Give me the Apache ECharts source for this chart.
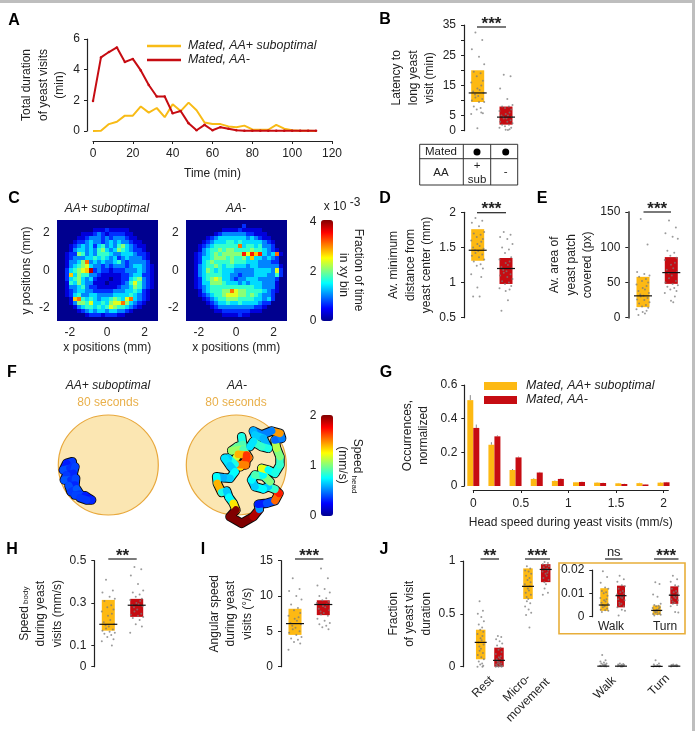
<!DOCTYPE html>
<html>
<head>
<meta charset="utf-8">
<title>Yeast feeding behaviour</title>
<script src="https://cdn.jsdelivr.net/npm/echarts@6/dist/echarts.min.js"></script>
<style>html,body{margin:0;padding:0;background:#fff}#chart{width:695px;height:731px}</style>
</head>
<body>
<div id="chart"></div>
<script>
// ---- Panel A: total duration of yeast visits per time bin
const timeBins = [0,4,8,12,16,20,24,28,32,36,40,44,48,52,56,60,64,68,72,76,80,84,88,92,96,100,104,108,112];
const visitsSub = [0,0.02,0.45,0.6,1,1,1.6,1.2,1.5,0.9,1.75,1.3,1.85,1.35,0.55,0.45,0.45,0.3,0.25,0.35,0.1,0.08,0.08,0.4,0.15,0.05,0.02,0.02,0];
const visitsMinus = [1.95,4.8,5.15,5.45,4.5,4.7,3.95,3,2.25,2.25,1.15,1.3,0.5,0.05,0.4,0.05,0.25,0.15,0.05,0.02,0.02,0.02,0.02,0.02,0.02,0.02,0.02,0.02,0.02];

// ---- Panel B: latency to long yeast visit
const latencySub = [32.5,30,27,24.5,22,19.5,19,18,16.5,16,15,14,13.5,13,12.5,12,11.5,11,10.5,10,9.5,9.5,8,7.5,7,5.8,5.5,6,0.8];
const latencyMinus = [18.5,18,14,10.5,8.5,8,8,7.5,7,6.5,6,5.5,5,5,4.5,4.5,4,4,3.5,3,3,2.5,2,2,1.5,1,1,0.5,0.3,0.2];

// ---- Panel C: fraction of time per xy bin, one base-36 digit per bin, top row first
const heatSub = [
"0000000000000000000000000",
"0000000000000000000000000",
"0000000001112111110000000",
"0000001112321222211000000",
"0000011233323233321100000",
"0000122343323434332110000",
"0001234342453435643211000",
"0001344343564346543221000",
"0012265343555433444322100",
"0012333445454342343332100",
"00133469343433453233332 0".replace(' ', '0'),
"0013456743323233323443210",
"00245678b2322122233343210",
"0028465533211111223442210",
"0024564342111011224563210",
"0015464331110111235753210",
"0013345322111112334653210",
"0012344332222233344542100",
"0012453344333344445432100",
"0001895454344565479432100",
"0001366574454677964321000",
"0000134554545765543210000",
"0000012343443443321000000",
"0000000122212221100000000",
"0000000000000000000000000"];
const heatMinus = [
"0000000000000000000000000",
"0000000000000020000000000",
"0000000001111211111000000",
"0000000123333332211100000",
"0000012344444443432110000",
"0000123444554544444321000",
"0001234555555945545332000",
"0001345565665555655432100",
"00123456566666a7a8a434910",
"0012445666565564844343200",
"0012456555565554443332200",
"0013455654554443443333310",
"0013465454443333344443720",
"0013455554433233344433520",
"0012456764432334443333200",
"0012446665444343444333100",
"0012345555555555544333100",
"0001345556697665555432100",
"0001234556777665654332000",
"0000123455666555544342000",
"0000012344544544443220000",
"0000001233333333322100000",
"0000000112222222111000000",
"0000000001111211000000000",
"0000000000000000000000000"];
const heatLevelStep = 0.34; // x 10^-3 per digit

// ---- Panel D: minimum distance from yeast centre
const distSub = [1.92,1.88,1.85,1.8,1.72,1.7,1.68,1.65,1.62,1.6,1.58,1.55,1.52,1.5,1.48,1.46,1.45,1.42,1.4,1.38,1.36,1.33,1.3,1.26,1.24,1.2,1.12,1.08,0.93,0.8,0.8];
const distMinus = [1.72,1.68,1.65,1.62,1.55,1.5,1.47,1.42,1.36,1.33,1.3,1.28,1.25,1.22,1.2,1.18,1.16,1.14,1.12,1.1,1.08,1.05,1.02,1,0.98,0.95,0.92,0.9,0.88,0.75,0.6];

// ---- Panel E: area of yeast patch covered
const areaSub = [140,104,65,62,60,58,55,52,50,47,45,42,40,38,35,33,31,30,28,26,25,22,20,18,16,14,12,10,8,6,4];
const areaMinus = [138,128,120,115,112,95,92,88,85,82,78,75,70,68,65,63,60,56,52,50,48,46,44,42,40,38,35,30,24,22];

// ---- Panel F: head tracks on the patch, [x, y, head speed in mm/s], patch radius = 150 units
const trackSub = [[-108,10,0.32],[-125,5,0.36],[-135,-15,0.3],[-115,-10,0.4],[-100,-5,0.34],[-105,-25,0.38],[-125,-30,0.32],[-132,-45,0.36],[-112,-45,0.42],[-98,-40,0.34],[-100,-60,0.38],[-118,-62,0.32],[-112,-80,0.4],[-95,-72,0.36],[-85,-88,0.42],[-100,-90,0.34],[-70,-92,0.38],[-58,-100,0.3],[-50,-105,0.28],[-65,-105,0.32],[-85,-98,0.36]];
const trackMinus = [[16,85,0.75],[19,62,0.8],[3,55,0.9],[-14,43,0.95],[21,47,1.05],[37,22,0.9],[13,-5,1.55],[-9,8,1.3],[6,32,1.15],[31,30,1.4],[28,0,1.65],[-4,2,1.5],[-24,20,0.8],[-34,20,0.65],[-19,-2,0.7],[-4,-20,0.65],[-19,-40,0.75],[-39,-38,0.65],[-59,-35,0.6],[-57,-55,0.75],[-44,-82,1.4],[-29,-78,0.8],[-22,-97,0.65],[-9,-115,0.75],[-1,-135,1.3],[-19,-155,2],[16,-175,2],[51,-155,2],[69,-133,1.9],[66,-118,0.55],[91,-115,0.3],[116,-107,0.4],[128,-85,1.55],[116,-73,1.7],[96,-65,0.85],[81,-72,0.65],[56,-65,0.75],[46,-45,0.65],[56,-30,0.75],[81,-33,0.9],[101,-50,0.7],[81,-30,1],[76,-10,0.75],[96,-15,1.2],[116,-25,0.75],[131,0,0.8],[131,25,0.85],[121,50,1],[116,75,1.1],[136,80,0.45],[131,95,0.5],[106,102,1.45],[76,90,0.5],[51,102,0.5],[56,90,0.6],[81,80,0.65],[96,50,0.6],[76,55,0.8],[51,70,0.85],[41,55,0.7]];

// ---- Panel G: head speed histogram
const speedBins = [0,0.222,0.444,0.667,0.889,1.111,1.333,1.556,1.778,2];
const histSub = [0.51,0.245,0.095,0.042,0.03,0.022,0.02,0.016,0.017,0.02];
const histMinus = [0.345,0.295,0.17,0.08,0.042,0.024,0.018,0.012,0.009,0.022];
const histSubErr = [0.03,0.015,0.006,0.004,0.003,0.002,0.002,0.002,0.002,0.002];
const histMinusErr = [0.02,0.006,0.005,0.004,0.003,0.002,0.002,0.002,0.001,0.002];

// ---- Panel H: body speed
const bodySub = [0.41,0.36,0.35,0.33,0.32,0.31,0.29,0.28,0.27,0.26,0.25,0.24,0.22,0.21,0.2,0.195,0.19,0.18,0.175,0.17,0.165,0.16,0.155,0.15,0.14,0.13,0.12,0.1];
const bodyMinus = [0.47,0.46,0.43,0.39,0.36,0.35,0.34,0.33,0.32,0.315,0.31,0.3,0.295,0.29,0.285,0.28,0.27,0.26,0.25,0.245,0.24,0.235,0.23,0.22,0.2,0.19,0.16];

// ---- Panel I: angular speed
const angSub = [12.5,11,10.7,10,9.5,8.8,8.3,8,7.6,7.2,7,6.8,6.5,6.2,6,5.8,5.5,5.3,5,4.8,4.5,4.2,4,3.8,3.5,3.3,2.4];
const angMinus = [13.9,12.5,11.5,11,10.5,10,9.7,9.4,9.2,9,8.8,8.6,8.4,8.2,8,7.8,7.6,7.4,7.2,6.8,6.5,6.2,6,5.8,5.6,5.3];

// ---- Panel J: fraction of yeast visit duration per behaviour
const restSub = [0.62,0.53,0.5,0.47,0.43,0.4,0.37,0.35,0.33,0.31,0.29,0.27,0.25,0.23,0.21,0.19,0.17,0.15,0.13,0.11,0.09,0.07,0.05,0.03,0.02,0.01,0,0];
const restMinus = [0.29,0.28,0.26,0.24,0.22,0.2,0.18,0.16,0.14,0.12,0.1,0.09,0.08,0.07,0.06,0.05,0.04,0.03,0.03,0.02,0.02,0.01,0.01,0.01,0,0,0];
const microSub = [0.95,0.93,0.91,0.9,0.88,0.86,0.84,0.82,0.8,0.78,0.76,0.74,0.72,0.7,0.68,0.66,0.64,0.62,0.6,0.57,0.54,0.51,0.49,0.37];
const microMinus = [0.99,0.98,0.97,0.96,0.95,0.94,0.93,0.92,0.91,0.9,0.89,0.88,0.86,0.84,0.82,0.8,0.78,0.74,0.7,0.68];
const walkSub = [0.11,0.06,0.05,0.04,0.03,0.03,0.02,0.02,0.015,0.01,0.01,0.008,0.005,0.005,0.003];
const walkMinus = [0.03,0.025,0.02,0.018,0.015,0.012,0.01,0.008,0.006,0.005,0.004,0.003,0.002];
const turnSub = [0.06,0.03,0.02,0.015,0.01,0.008,0.006,0.004,0.003,0.002];
const turnMinus = [0.02,0.018,0.015,0.012,0.01,0.009,0.008,0.006,0.004,0.003];
// inset, expanded scale
const walkSubZoom = [0.0195,0.017,0.0145,0.0125,0.012,0.011,0.0105,0.01,0.009,0.008,0.0075,0.007,0.0065,0.006,0.0055,0.005,0.0045,0.004,0.0035,0.003,0.0028,0.0025,0.002];
const walkMinusZoom = [0.0175,0.016,0.015,0.0135,0.013,0.012,0.011,0.0105,0.01,0.0095,0.009,0.0085,0.008,0.0075,0.007,0.006,0.0055,0.005,0.0045,0.004,0.003,0.0025,0.0005];
const turnSubZoom = [0.0148,0.014,0.0095,0.0085,0.0055,0.005,0.0047,0.0045,0.004,0.0037,0.0035,0.003,0.0028,0.0027,0.0025,0.0023,0.002,0.0018,0.0015,0.0012,0.001,0.0008,0.0005];
const turnMinusZoom = [0.0175,0.016,0.015,0.0135,0.013,0.012,0.011,0.0105,0.01,0.0095,0.009,0.0085,0.008,0.0075,0.007,0.0065,0.006,0.0055,0.005,0.0045,0.002,0.0018];

// ---- Shared style
const YELLOW = '#FDB913', RED = '#C60C12', INK = '#222222', GOLD = '#E9B04B';
const FONT = '"Liberation Sans", Arial, sans-serif';
const jetStops = ['#00008f','#0000ff','#0080ff','#00ffff','#80ff80','#ffff00','#ff8000','#ff0000','#800000'];
const spread = [-0.35,0.7,-0.9,0.2,1,-0.6,0.45,-0.15,0.8,-1,0.55,-0.05,0.3,-0.7,0.9,-0.42,0.08];

const grids = [], xAxes = [], yAxes = [], series = [], graphics = [];

function text(str, x, y, o = {}) {
  graphics.push({
    type: 'text', x, y, rotation: o.rotate || 0, silent: true,
    style: { text: str, font: `${o.style || ''} ${o.weight || ''} ${o.size || 12}px ${FONT}`, fill: o.fill || INK,
      align: o.align || 'center', verticalAlign: 'middle', rich: o.rich, lineHeight: o.lineHeight }
  });
}
function rule(x1, y1, x2, y2, color = INK, width = 1) {
  graphics.push({ type: 'line', silent: true, shape: { x1, y1, x2, y2 }, style: { stroke: color, lineWidth: width } });
}
function sig(x1, x2, y, mark) {
  rule(x1, y, x2, y, INK, 1.2);
  if (mark === 'ns') text('ns', (x1 + x2) / 2, y - 7, { size: 13, fill: INK });
  else text(mark, (x1 + x2) / 2, y - 3, { size: 17, weight: 'bold', fill: INK });
}

function addGrid(rect, xAxis, yAxis) {
  const i = grids.length;
  grids.push({ left: rect.left, top: rect.top, width: rect.width, height: rect.height, containLabel: false });
  xAxes.push(Object.assign({ gridIndex: i, type: 'value', splitLine: { show: false } }, xAxis));
  yAxes.push(Object.assign({ gridIndex: i, type: 'value', splitLine: { show: false } }, yAxis));
  return i;
}
function axisLook(extra = {}, color = INK, width = 1.2) {
  return Object.assign({
    axisLine: { show: true, onZero: false, lineStyle: { color, width } },
    axisTick: { show: true, length: 3, lineStyle: { color: INK, width: 1 } },
    axisLabel: { color: INK, fontSize: 12, fontFamily: FONT, margin: 7 },
    nameTextStyle: { color: INK, fontSize: 12, fontFamily: FONT, lineHeight: 16.5 },
    nameLocation: 'middle'
  }, extra);
}

// Floating box, dots and median bar for one group on a pixel-spaced nominal x axis
function addGroup(g, cx, color, vals, lo, hi, med, o = {}) {
  const w = o.w || 13, mw = o.mw || 18, jit = o.jit === undefined ? 6.5 : o.jit;
  if (lo !== null) {
    series.push({
      type: 'custom', xAxisIndex: g, yAxisIndex: g, silent: true, z: 2, data: [[cx, lo, hi]],
      renderItem(p, api) {
        const a = api.coord([api.value(0), api.value(2)]), b = api.coord([api.value(0), api.value(1)]);
        return { type: 'rect', shape: { x: a[0] - w / 2, y: a[1], width: w, height: b[1] - a[1] }, style: { fill: color } };
      }
    });
  }
  series.push({
    type: 'scatter', xAxisIndex: g, yAxisIndex: g, silent: true, z: 3, clip: false,
    symbolSize: o.dot || 2, itemStyle: { color: '#7a7a7a', opacity: 0.75 },
    data: vals.map((v, i) => [cx + spread[i % spread.length] * jit, v])
  });
  series.push({
    type: 'custom', xAxisIndex: g, yAxisIndex: g, silent: true, z: 4, data: [[cx, med]],
    renderItem(p, api) {
      const c = api.coord([api.value(0), api.value(1)]);
      return { type: 'line', shape: { x1: c[0] - mw / 2, y1: c[1], x2: c[0] + mw / 2, y2: c[1] }, style: { stroke: '#111', lineWidth: 1.2 } };
    }
  });
}
// Behaviour panel: y axis plus hidden nominal x axis whose units are pixels
function swarmPanel(left, right, top, bottom, yOpt) {
  return addGrid({ left, top, width: right - left, height: bottom - top },
    { show: false, min: left, max: right }, axisLook(yOpt, yOpt.lineColor || INK, yOpt.lineWidth || 1.2));
}
function yAxisOpt(min, max, labels, ticks, name, gap) {
  const look = axisLook();
  return {
    min, max, name, nameGap: gap, nameRotate: 90,
    axisLabel: Object.assign({}, look.axisLabel, { customValues: labels, margin: 8 }),
    axisTick: Object.assign({}, look.axisTick, { customValues: ticks || labels })
  };
}

// ---- A
{
  const g = addGrid({ left: 93, top: 39, width: 239, height: 92 },
    axisLook({ min: 0, max: 120, interval: 20, offset: 10, name: 'Time (min)', nameGap: 24 }),
    axisLook({ min: 0, max: 6, interval: 2, offset: 6, name: 'Total duration\nof yeast visits\n(min)', nameGap: 19, nameRotate: 90 }));
  const line = (name, color, vals, size) => series.push({
    name, type: 'line', xAxisIndex: g, yAxisIndex: g, silent: true, z: 3, symbol: 'circle', symbolSize: size, showSymbol: size > 0,
    lineStyle: { color, width: 2 }, itemStyle: { color }, data: timeBins.map((t, i) => [t, vals[i]])
  });
  line('Mated, AA+ suboptimal', '#F8BB16', visitsSub, 0);
  line('Mated, AA-', RED, visitsMinus, 2.5);
}
const legendA = {
  left: 147, top: 39, orient: 'vertical', padding: 0, itemGap: 0, itemWidth: 34, itemHeight: 2.5, icon: 'rect', selectedMode: false,
  textStyle: { color: INK, fontSize: 12.4, fontStyle: 'italic', fontFamily: FONT, lineHeight: 14, padding: [0, 0, 0, 2] },
  data: [{ name: 'Mated, AA+ suboptimal', itemStyle: { color: '#F8BB16' } }, { name: 'Mated, AA-', itemStyle: { color: RED } }]
};

// ---- B
{
  const o = yAxisOpt(0, 35, [0, 5, 15, 25, 35], [0, 5, 10, 15, 20, 25, 30, 35], 'Latency to\nlong yeast\nvisit (min)', 26);
  const g = swarmPanel(464, 525, 25, 130.7, o);
  addGroup(g, 477.7, YELLOW, latencySub, 9.5, 20, 12.5);
  addGroup(g, 506, RED, latencyMinus, 2, 8, 4.5);
  sig(477, 506, 27, '***');
  // genotype table under the panel
  graphics.push({ type: 'rect', silent: true, shape: { x: 419.7, y: 144.3, width: 98, height: 40.7 }, style: { fill: 'none', stroke: '#333', lineWidth: 1 } });
  rule(419.7, 158.7, 517.7, 158.7, '#333', 1);
  rule(463.3, 144.3, 463.3, 185, '#333', 1);
  rule(490.7, 144.3, 490.7, 185, '#333', 1);
  text('Mated', 441, 151.5, { size: 11.5 });
  text('AA', 441, 173, { size: 11.5 });
  text('+', 477, 165.5, { size: 11.5 });
  text('sub', 477, 179.5, { size: 11.5 });
  text('-', 505.7, 172, { size: 11.5 });
  for (const cx of [477, 505.7]) graphics.push({ type: 'circle', silent: true, shape: { cx, cy: 152, r: 3.5 }, style: { fill: '#000' } });
}

// ---- C
function heatPanel(left, rows, yName) {
  const g = addGrid({ left, top: 220, width: 101, height: 101 },
    axisLook({ min: -2.7, max: 2.7, axisLine: { show: false }, axisTick: { show: false }, name: 'x positions (mm)', nameGap: 18,
      axisLabel: { color: INK, fontSize: 12, fontFamily: FONT, margin: 6, customValues: [-2, 0, 2] } }),
    axisLook({ min: -2.7, max: 2.7, axisLine: { show: false }, axisTick: { show: false }, name: yName, nameGap: 21, nameRotate: 90,
      axisLabel: { color: INK, fontSize: 12, fontFamily: FONT, margin: 7, customValues: [-2, 0, 2] } }));
  const n = rows.length, step = 5.4 / n, cells = [];
  rows.forEach((row, r) => [...row].forEach((ch, c) => cells.push([-2.7 + step * c, 2.7 - step * r, parseInt(ch, 36) * heatLevelStep])));
  series.push({
    type: 'custom', xAxisIndex: g, yAxisIndex: g, silent: true, z: 2, data: cells,
    encode: { x: 0, y: 1 },
    renderItem(p, api) {
      const a = api.coord([api.value(0), api.value(1)]), b = api.coord([api.value(0) + step, api.value(1) - step]);
      const x0 = Math.round(a[0]), y0 = Math.round(a[1]);
      return { type: 'rect', shape: { x: x0, y: y0, width: Math.round(b[0]) - x0, height: Math.round(b[1]) - y0 }, style: { fill: api.visual('color') } };
    }
  });
  return series.length - 1;
}
const heatA = heatPanel(56.7, heatSub, 'y positions (mm)');
const heatB = heatPanel(185.7, heatMinus, '');
text('AA+ suboptimal', 107, 209, { style: 'italic' });
text('AA-', 236, 209, { style: 'italic' });
text('{a|x 10}{b| -3}', 342, 207, { rich: { a: { font: `12px ${FONT}`, fill: INK }, b: { font: `12px ${FONT}`, fill: INK, padding: [0, 0, 9, 0] } } });
text('4', 313, 222); text('2', 313, 272); text('0', 313, 321);
text('Fraction of time', 358, 270, { rotate: -Math.PI / 2 });
text('in xy bin', 343, 275, { rotate: -Math.PI / 2 });

// ---- D
{
  const o = yAxisOpt(0.5, 2, [0.5, 1, 1.5, 2], null, 'Av. minimum\ndistance from\nyeast center (mm)', 24);
  const g = swarmPanel(464, 525, 212.3, 317.7, o);
  addGroup(g, 477.7, YELLOW, distSub, 1.31, 1.76, 1.46);
  addGroup(g, 506, RED, distMinus, 0.98, 1.35, 1.2);
  sig(477, 506, 212.7, '***');
}
// ---- E
{
  const o = yAxisOpt(0, 150, [0, 50, 100, 150], null, 'Av. area of\nyeast patch\ncovered (px)', 32);
  o.lineColor = '#666'; o.lineWidth = 2;
  const g = swarmPanel(628.3, 690, 212, 317.7, o);
  addGroup(g, 643, YELLOW, areaSub, 15, 58, 31);
  addGroup(g, 671.3, RED, areaMinus, 48, 86, 64);
  sig(643.5, 671, 212, '***');
}

// ---- F
function trackPanel(left, track) {
  const g = addGrid({ left, top: 415, width: 100, height: 100 },
    { show: false, min: -150, max: 150 }, { show: false, min: -150, max: 150 });
  series.push({
    type: 'custom', xAxisIndex: g, yAxisIndex: g, silent: true, z: 1, data: [[0, 0, 150]],
    renderItem(p, api) {
      const c = api.coord([api.value(0), api.value(1)]), e = api.coord([api.value(2), 0]);
      return { type: 'circle', shape: { cx: c[0], cy: c[1], r: e[0] - c[0] }, style: { fill: '#FBE6B2', stroke: '#E8A83C', lineWidth: 1.2 } };
    }
  });
  series.push({
    type: 'line', xAxisIndex: g, yAxisIndex: g, silent: true, z: 2, clip: false, showSymbol: false, animation: false,
    lineStyle: { color: '#0b0b0b', width: 9.5, join: 'round', cap: 'round' }, data: track.map(t => [t[0], t[1]])
  });
  series.push({
    type: 'custom', xAxisIndex: g, yAxisIndex: g, silent: true, z: 3, clip: false,
    data: track.slice(1).map((t, i) => [track[i][0], track[i][1], t[0], t[1], t[2]]),
    encode: { x: [0, 2], y: [1, 3] },
    renderItem(p, api) {
      const a = api.coord([api.value(0), api.value(1)]), b = api.coord([api.value(2), api.value(3)]);
      return { type: 'line', shape: { x1: a[0], y1: a[1], x2: b[0], y2: b[1] }, style: { stroke: api.visual('color'), lineWidth: 7.5, lineCap: 'round' } };
    }
  });
  return series.length - 1;
}
const trackA = trackPanel(58.3, trackSub);
const trackB = trackPanel(186.3, trackMinus);
text('AA+ suboptimal', 108, 386, { style: 'italic' });
text('80 seconds', 108, 403, { fill: GOLD });
text('AA-', 237, 386, { style: 'italic' });
text('80 seconds', 236, 403, { fill: GOLD });
text('2', 313, 416); text('1', 313, 466); text('0', 313, 516);
text('(mm/s)', 342, 465, { rotate: -Math.PI / 2 });
text('{a|Speed}{b| head}', 357, 466, { rotate: -Math.PI / 2, rich: { a: { font: `12px ${FONT}`, fill: INK }, b: { font: `8px ${FONT}`, fill: INK, padding: [6, 0, 0, 0] } } });

// ---- G
{
  const g = addGrid({ left: 473.3, top: 385, width: 195, height: 101 },
    axisLook({ min: 0, max: 2.05, offset: 4, name: 'Head speed during yeast visits (mm/s)', nameGap: 24,
      axisLabel: { color: INK, fontSize: 12, fontFamily: FONT, margin: 8, customValues: [0, 0.5, 1, 1.5, 2] },
      axisTick: { show: true, length: 3, lineStyle: { color: INK }, customValues: [0, 0.5, 1, 1.5, 2] } }),
    axisLook({ min: 0, max: 0.6, interval: 0.2, offset: 9, name: 'Occurrences,\nnormalized', nameGap: 32, nameRotate: 90 }));
  const bars = (name, color, vals) => series.push({
    name, type: 'bar', xAxisIndex: g, yAxisIndex: g, silent: true, z: 3, clip: false, barWidth: 6, barGap: 0,
    itemStyle: { color }, data: speedBins.map((s, i) => [s, vals[i]])
  });
  bars('Mated, AA+ suboptimal', YELLOW, histSub);
  bars('Mated, AA-', RED, histMinus);
  const errs = (vals, err, dx) => series.push({
    type: 'custom', xAxisIndex: g, yAxisIndex: g, silent: true, z: 2, clip: false,
    data: speedBins.map((s, i) => [s, vals[i], vals[i] + err[i]]),
    renderItem(p, api) {
      const a = api.coord([api.value(0), api.value(1)]), b = api.coord([api.value(0), api.value(2)]);
      return { type: 'line', shape: { x1: a[0] + dx, y1: a[1], x2: b[0] + dx, y2: b[1] }, style: { stroke: '#8a8a8a', lineWidth: 1 } };
    }
  });
  errs(histSub, histSubErr, -3);
  errs(histMinus, histMinusErr, 3);
}
const legendG = {
  left: 484, top: 379, orient: 'vertical', padding: 0, itemGap: 0, itemWidth: 33, itemHeight: 8, icon: 'rect', selectedMode: false,
  textStyle: { color: INK, fontSize: 12.4, fontStyle: 'italic', fontFamily: FONT, lineHeight: 14, padding: [0, 0, 0, 4] },
  data: [{ name: 'Mated, AA+ suboptimal', itemStyle: { color: YELLOW } }, { name: 'Mated, AA-', itemStyle: { color: RED } }]
};

// ---- H
{
  const o = yAxisOpt(0, 0.5, [0, 0.1, 0.3, 0.5], null, '{a|Speed}{b| body}\nduring yeast\nvisits (mm/s)', 28);
  o.nameTextStyle = { color: INK, fontSize: 12, fontFamily: FONT, lineHeight: 16.5,
    rich: { a: { fontSize: 12, fontFamily: FONT, color: INK }, b: { fontSize: 8, fontFamily: FONT, color: INK, padding: [0, 0, -3, 0] } } };
  const g = swarmPanel(94.3, 155, 560.7, 666.7, o);
  addGroup(g, 108.3, YELLOW, bodySub, 0.17, 0.315, 0.2);
  addGroup(g, 136.7, RED, bodyMinus, 0.235, 0.32, 0.29);
  sig(108.3, 136.7, 559, '**');
}
// ---- I
{
  const o = yAxisOpt(0, 15, [0, 5, 10, 15], null, 'Angular speed\nduring yeast\nvisits (\u00b0/s)', 21);
  const g = swarmPanel(281, 342, 560.7, 666.7, o);
  addGroup(g, 295, YELLOW, angSub, 4.5, 8.2, 6.1);
  addGroup(g, 323.3, RED, angMinus, 7.3, 9.4, 8.8);
  sig(295, 323.3, 559, '***');
}
// ---- J
{
  const o = yAxisOpt(0, 1, [0, 0.5, 1], null, 'Fraction\nof yeast visit\nduration', 24);
  const g = swarmPanel(463.3, 690, 561, 666.7, o);
  const s = { w: 9.5, mw: 12, jit: 3.2 };
  addGroup(g, 480.7, YELLOW, restSub, 0.07, 0.35, 0.23, s);
  addGroup(g, 499, RED, restMinus, 0, 0.18, 0.06, s);
  addGroup(g, 528, YELLOW, microSub, 0.64, 0.93, 0.76, s);
  addGroup(g, 545.7, RED, microMinus, 0.8, 0.97, 0.92, s);
  addGroup(g, 603.3, YELLOW, walkSub, null, null, 0.005, s);
  addGroup(g, 621, RED, walkMinus, null, null, 0.005, s);
  addGroup(g, 656.7, YELLOW, turnSub, null, null, 0.003, s);
  addGroup(g, 674.3, RED, turnMinus, null, null, 0.005, s);
  sig(480.5, 499, 559, '**');
  sig(525, 550, 559, '***');
  sig(605, 622.5, 559, 'ns');
  sig(654, 678.5, 559, '***');
  text('Rest', 483, 687, { rotate: Math.PI / 4 });
  text('Micro-', 517, 688, { rotate: Math.PI / 4 });
  text('movement', 528, 700, { rotate: Math.PI / 4 });
  text('Walk', 605, 688, { rotate: Math.PI / 4 });
  text('Turn', 659, 685, { rotate: Math.PI / 4 });
  // inset frame with the expanded scale
  graphics.push({ type: 'rect', silent: true, shape: { x: 559, y: 563, width: 126, height: 70.7 }, style: { fill: '#fff', stroke: '#E8AE3A', lineWidth: 1.6 } });
  const i = yAxisOpt(0, 0.02, [0, 0.01, 0.02], null, '', 10);
  const h = swarmPanel(592.3, 684, 570, 616.7, i);
  const t = { w: 8, mw: 11, jit: 4 };
  addGroup(h, 604.3, YELLOW, walkSubZoom, 0.0025, 0.0122, 0.005, t);
  addGroup(h, 621, RED, walkMinusZoom, 0.004, 0.0133, 0.009, t);
  addGroup(h, 656.7, YELLOW, turnSubZoom, 0.0008, 0.0048, 0.0027, t);
  addGroup(h, 674.3, RED, turnMinusZoom, 0.0055, 0.013, 0.0092, t);
  text('Walk', 611, 627);
  text('Turn', 665, 627);
}

// ---- Panel letters and the sheet's frame edges
[['A', 14, 21], ['B', 385, 20], ['C', 14, 199], ['D', 385, 199], ['E', 542, 199], ['F', 12, 373], ['G', 386, 373], ['H', 12, 550], ['I', 203, 550], ['J', 384, 550]]
  .forEach(([l, x, y]) => text(l, x, y, { size: 16, weight: 'bold', fill: '#000' }));
graphics.push({ type: 'rect', silent: true, shape: { x: 0, y: 0, width: 695, height: 3 }, style: { fill: '#BEBEBE' } });
graphics.push({ type: 'rect', silent: true, shape: { x: 692, y: 0, width: 3, height: 731 }, style: { fill: '#BEBEBE' } });

const colourBar = (seriesIndex, dimension, min, max, top) => ({
  type: 'continuous', seriesIndex, dimension, min, max, left: 321, top, itemWidth: 12, itemHeight: 101, padding: 0, calculable: false,
  realtime: false, text: null, inRange: { color: jetStops }, hoverLink: false
});

const chart = echarts.init(document.getElementById('chart'), null, { renderer: 'canvas' });
chart.setOption({
  animation: false,
  backgroundColor: '#fff',
  textStyle: { fontFamily: FONT },
  grid: grids, xAxis: xAxes, yAxis: yAxes,
  legend: [legendA, legendG],
  visualMap: [colourBar([heatA, heatB], 2, 0, 4, 220), colourBar([trackA, trackB], 4, 0, 2, 415)],
  graphic: { elements: graphics },
  series
});
</script>
</body>
</html>
